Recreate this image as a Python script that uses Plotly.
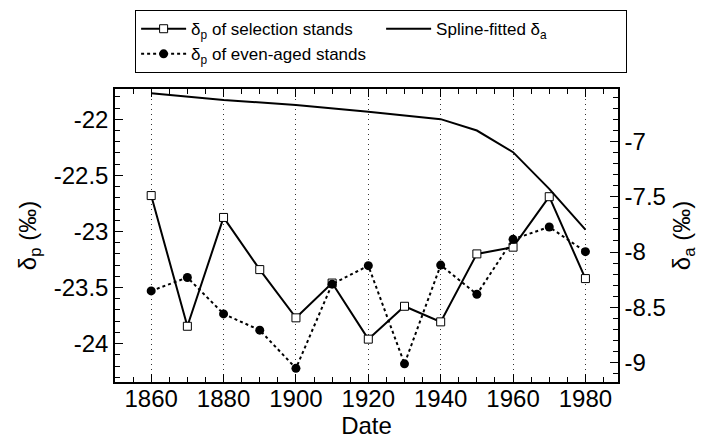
import plotly.graph_objects as go

years = [1860, 1870, 1880, 1890, 1900, 1910, 1920, 1930, 1940, 1950, 1960, 1970, 1980]
selection_dp = [-22.68, -23.845, -22.875, -23.34, -23.77, -23.46, -23.96, -23.667, -23.806, -23.20, -23.14, -22.69, -23.42]
even_aged_dp = [-23.53, -23.41, -23.735, -23.88, -24.22, -23.47, -23.305, -24.18, -23.30, -23.56, -23.07, -22.96, -23.18]
spline_years = [1860, 1880, 1900, 1920, 1940, 1950, 1960, 1970, 1980]
spline_da = [-6.562, -6.623, -6.668, -6.729, -6.797, -6.90, -7.096, -7.428, -7.798]

left_tick_vals = [-24, -23.5, -23, -22.5, -22]
left_tick_text = ["-24", "-23.5", "-23", "-22.5", "-22"]
right_tick_vals = [-9, -8.5, -8, -7.5, -7, -6.5]
right_tick_text = ["-9", "-8.5", "-8", "-7.5", "-7", "-6.5"]

FONT = "Liberation Sans, Arial, Helvetica, sans-serif"

fig = go.Figure()
fig.add_trace(go.Scatter(
    x=years, y=selection_dp, mode="lines+markers",
    name="δ<sub>p</sub> of selection stands",
    line=dict(color="black", width=2),
    marker=dict(symbol="square", size=8, color="white", line=dict(color="black", width=1)),
    legendrank=1,
))
fig.add_trace(go.Scatter(
    x=spline_years, y=spline_da, mode="lines", yaxis="y2",
    name="Spline-fitted δ<sub>a</sub>",
    line=dict(color="black", width=2),
    legendrank=2,
))
fig.add_trace(go.Scatter(
    x=years, y=even_aged_dp, mode="lines+markers",
    name="δ<sub>p</sub> of even-aged stands",
    line=dict(color="black", width=2, dash="dot"),
    marker=dict(symbol="circle", size=9, color="black"),
    legendrank=3,
))

axis_common = dict(
    showline=True, linecolor="black", linewidth=1.5,
    ticks="inside", tickcolor="black", tickwidth=1, ticklen=8,
    tickfont=dict(family=FONT, size=24, color="black"),
    zeroline=False,
)

fig.update_layout(
    width=714, height=442,
    margin=dict(l=115, r=96, t=89, b=60, autoexpand=False),
    paper_bgcolor="white", plot_bgcolor="white",
    font=dict(family=FONT, color="black"),
    xaxis=dict(
        **axis_common,
        range=[1850, 1989], tick0=1860, dtick=20,
        mirror="ticks",
        ticklabelstandoff=-6,
        showgrid=True, gridcolor="#333", gridwidth=1, griddash="1px,4px",
        minor=dict(dtick=5, ticks="inside", ticklen=5, tickcolor="black", showgrid=False),
        title=dict(text="Date", font=dict(family=FONT, size=24, color="black"), standoff=4),
    ),
    yaxis=dict(
        **axis_common,
        range=[-24.342, -21.73],
        tickmode="array", tickvals=left_tick_vals, ticktext=left_tick_text,
        showgrid=False,
        minor=dict(dtick=0.1, tick0=-24, ticks="inside", ticklen=5, tickcolor="black"),
        title=dict(text="δ<sub>p</sub> (‰)", font=dict(family=FONT, size=24, color="black"), standoff=10),
    ),
    yaxis2=dict(
        **axis_common,
        overlaying="y", side="right",
        range=[-9.177, -6.524],
        tickmode="array", tickvals=right_tick_vals, ticktext=right_tick_text,
        showgrid=False,
        minor=dict(dtick=0.1, tick0=-9, ticks="inside", ticklen=5, tickcolor="black"),
        title=dict(text="δ<sub>a</sub> (‰)", font=dict(family=FONT, size=24, color="black"), standoff=8),
    ),
    legend=dict(
        orientation="h",
        x=0.04, xanchor="left",
        y=1.269, yanchor="top",
        bgcolor="white", bordercolor="black", borderwidth=1,
        font=dict(family=FONT, size=17, color="black"),
        itemwidth=45,
        entrywidth=185, entrywidthmode="pixels",
        traceorder="normal",
    ),
    showlegend=True,
)

fig.write_html(
    "out.html",
    config={"displayModeBar": False},
    post_script="document.body.style.margin='0';document.body.style.padding='0';",
)
